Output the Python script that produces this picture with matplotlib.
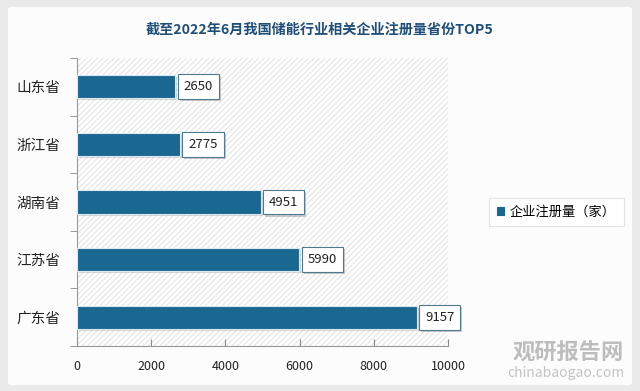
import matplotlib
matplotlib.use("Agg")
import matplotlib.pyplot as plt
from matplotlib.patches import Rectangle, FancyBboxPatch
import matplotlib.patheffects as pe

plt.rcParams['font.family'] = ['Noto Sans CJK SC', 'DejaVu Sans']
plt.rcParams['hatch.color'] = '#dcdcdc'
plt.rcParams['hatch.linewidth'] = 0.6

title = "截至2022年6月我国储能行业相关企业注册量省份TOP5"
provinces = ["广东省", "江苏省", "湖南省", "浙江省", "山东省"]
values = [9157, 5990, 4951, 2775, 2650]
series_name = "企业注册量（家）"
xticks = [0, 2000, 4000, 6000, 8000, 10000]

bar_color = '#1a6791'

fig = plt.figure(figsize=(6.4, 3.91), dpi=100)
fig.patch.set_facecolor('#eaeaea')
panel = FancyBboxPatch((8/640, 6/391), 624/640, 378/391, boxstyle="round,pad=0,rounding_size=0.005",
                       transform=fig.transFigure, facecolor='#fcfcfd', edgecolor='none', zorder=-10)
fig.patches.append(panel)

ax = fig.add_axes([77/640, 1-346/391, (448-77)/640, (346-58)/391])
ax.set_zorder(1)
ax.set_facecolor('none')
bg = Rectangle((0, 0), 1, 1, transform=ax.transAxes, facecolor='white', edgecolor='#dcdcdc',
               hatch='//////', linewidth=0, zorder=0)
ax.add_patch(bg)

y = list(range(len(provinces)))
bars = ax.barh(y, values, height=0.4, color=bar_color, edgecolor='#dbe9f2', linewidth=0.8, zorder=3,
               path_effects=[pe.SimplePatchShadow(offset=(1.5, -1.5), shadow_rgbFace='#b0b0b0', alpha=0.5), pe.Normal()])
for yi, v in zip(y, values):
    ax.annotate(f"{v}", xy=(v, yi), xytext=(6, 0), textcoords='offset points', va='center', ha='left',
                fontsize=9.5, color='#222222', zorder=5,
                bbox=dict(boxstyle='square,pad=0.45', facecolor='white', edgecolor='#4f7a93', linewidth=0.8,
                          path_effects=[pe.SimplePatchShadow(offset=(1.5, -1.5), shadow_rgbFace='#999999', alpha=0.5), pe.Normal()]))

ax.set_xlim(0, 10000)
ax.set_ylim(-0.5, len(provinces) - 0.5)
ax.set_xticks(xticks)
ax.set_xticklabels([str(t) for t in xticks], fontsize=9, color='#222222')
ax.set_yticks(y)
ax.set_yticklabels(provinces, fontsize=10.5, color='#222222')
ax.tick_params(axis='y', length=0, pad=12)
ax.set_yticks([i + 0.5 for i in range(-1, len(provinces))], minor=True)
ax.tick_params(axis='y', which='minor', length=5, color='#888888', direction='out')
ax.tick_params(axis='x', length=5, color='#888888', direction='in', pad=10)
for s in ['top', 'right']:
    ax.spines[s].set_visible(False)
for s in ['left', 'bottom']:
    ax.spines[s].set_color('#999999')
    ax.spines[s].set_linewidth(0.8)

fig.text(0.5, 1-30/391, title, ha='center', va='center', fontsize=10.2, fontweight='bold', color='#1f4e79')

# legend
leg = ax.legend([bars], [series_name], loc='center left', bbox_to_anchor=(482/640, 1-212/391),
                bbox_transform=fig.transFigure, fontsize=9.5, frameon=True, fancybox=False,
                handlelength=0.6, handleheight=0.6, handletextpad=0.4, borderpad=0.6)
leg.get_frame().set_edgecolor('#dddddd')
leg.get_frame().set_linewidth(0.8)
for h in leg.legend_handles:
    h.set_path_effects([])
    h.set_edgecolor(bar_color)

# watermark
fig.text(568/640, 1-353/391, "观研报告网", ha='center', va='center', fontsize=16, fontweight='bold', color='#bdbdbd')
fig.text(566/640, 1-373/391, "chinabaogao.com", ha='center', va='center', fontsize=10, color='#c4c4c4')

fig.savefig("out.png", dpi=100, facecolor=fig.get_facecolor())
